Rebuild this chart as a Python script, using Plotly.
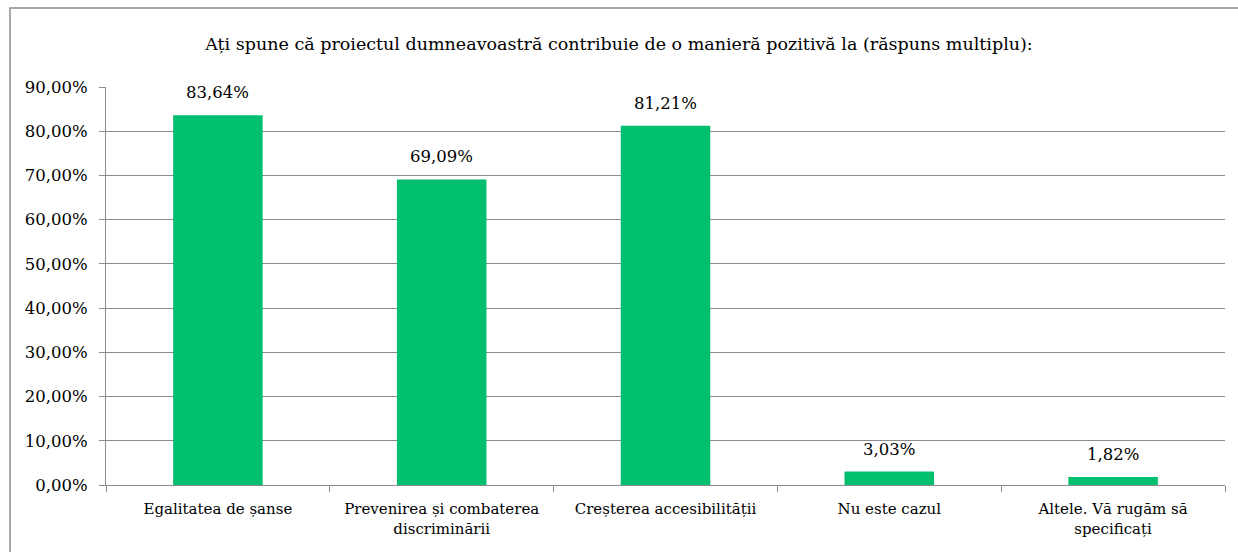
import plotly.graph_objects as go

# date
categorii = [
    "Egalitatea de șanse",
    "Prevenirea și combaterea<br>discriminării",
    "Creșterea accesibilității",
    "Nu este cazul",
    "Altele. Vă rugăm să<br>specificați",
]
procente = [83.64, 69.09, 81.21, 3.03, 1.82]
etichete = ["83,64%", "69,09%", "81,21%", "3,03%", "1,82%"]
tick_vals = [0, 10, 20, 30, 40, 50, 60, 70, 80, 90]
tick_text = [f"{v},00%" for v in tick_vals]
titlu = "Ați spune că proiectul dumneavoastră contribuie de o manieră pozitivă la (răspuns multiplu):"

W, H = 1238, 552
L, R, T, B = 106, 13, 87, 67
FONT = "DejaVu Serif"
GRI = "#8c8c8c"

fig = go.Figure()
fig.add_trace(go.Bar(
    x=categorii, y=procente,
    marker=dict(color="#00BF6F", line=dict(width=0)),
))

# etichetele de valoare, puțin deasupra barelor
for c, v, e in zip(categorii, procente, etichete):
    fig.add_annotation(x=c, y=v, text=e, showarrow=False, yanchor="bottom",
                       yshift=11, font=dict(family=FONT, size=16.5, color="#000000"))

# chenarul graficului (doar sus și stânga se văd)
pw, ph = W - L - R, H - T - B
fig.add_shape(type="rect", xref="paper", yref="paper",
              x0=(10 - L) / pw, x1=(W + 20 - L) / pw,
              y0=-(H + 20 - T - ph) / ph, y1=(ph + T - 8) / ph,
              line=dict(color=GRI, width=1.5), layer="below")

fig.update_layout(
    width=W, height=H,
    margin=dict(l=L, r=R, t=T, b=B, autoexpand=False),
    paper_bgcolor="white", plot_bgcolor="white",
    bargap=0.6, showlegend=False,
    font=dict(family=FONT, size=15, color="#000000"),
    title=dict(text=titlu, x=0.5, xanchor="center", y=1 - 44 / H, yanchor="middle",
               font=dict(family=FONT, size=17.5, color="#000000")),
)
fig.update_yaxes(range=[0, 90], tickvals=tick_vals, ticktext=tick_text,
                 showgrid=True, gridcolor=GRI, gridwidth=1,
                 showline=True, linecolor=GRI, linewidth=1,
                 ticks="outside", ticklen=6, tickcolor=GRI,
                 ticklabelstandoff=8,
                 tickfont=dict(family=FONT, size=16.5), zeroline=False,
                 automargin=False)
fig.update_xaxes(showline=True, linecolor=GRI, linewidth=1,
                 ticks="outside", ticklen=6, tickcolor=GRI,
                 tickson="boundaries", automargin=False,
                 ticklabelstandoff=10,
                 tickfont=dict(family=FONT, size=15))

fig.write_html("out.html", config={"displayModeBar": False},
               post_script="document.body.style.margin='0';")
